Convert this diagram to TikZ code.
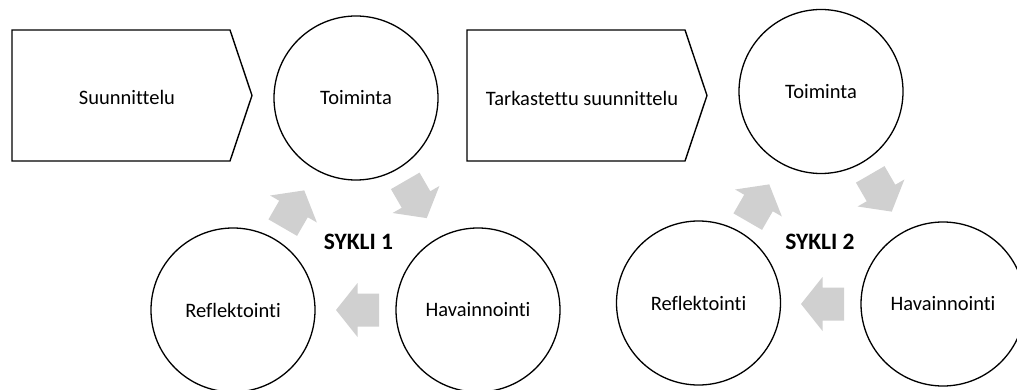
\documentclass[tikz,border=0pt]{standalone}
\usepackage{fontspec}
\setmainfont{Carlito}[Ligatures={NoCommon}]
\begin{document}
\begin{tikzpicture}[x=1pt,y=-1pt,
  label text/.style={font=\fontsize{20.5}{24}\selectfont, inner sep=0pt},
  cycle title/.style={font=\fontsize{23.5}{27}\selectfont\bfseries, inner sep=0pt},
  phase/.style={draw=black, line width=1.3pt, circle, minimum size=164pt, inner sep=0pt,
                font=\fontsize{20.5}{24}\selectfont},
  plan outline/.style={draw=black, line width=1.4pt, line join=miter},
  flow arrow/.style={fill=arrowgray, draw=none}
]
\definecolor{arrowgray}{RGB}{208,208,208}
\useasboundingbox (0,0) rectangle (1017,390);

% chevron-shaped block arrow, centred at (#1,#2), pointing at angle #3
\newcommand\cyclearrow[3]{%
  \fill[flow arrow, shift={(#1,#2)}, rotate=#3]
    (-21.5,-16.5) -- (0,-16.5) -- (0,-27) -- (21.5,0) -- (0,27) -- (0,16.5) -- (-21.5,16.5) -- cycle;}

% ---------- cycle 1 ----------
\coordinate (p1a) at (12,30);
\coordinate (p1b) at (230,30);
\coordinate (p1c) at (252,95.5);
\coordinate (p1d) at (230,161);
\coordinate (p1e) at (12,161);
\draw[plan outline] (p1a) -- (p1b) -- (p1c) -- (p1d) -- (p1e) -- cycle;
\node[label text] (plan1) at (127,97) {Suunnittelu};

\node[phase] (act1) at (356,98) {Toiminta};
\node[phase] (obs1) at (478,310) {Havainnointi};
\node[phase] (ref1) at (233,310) {Reflektointi};
\node[cycle title] (title1) at (358.5,242) {SYKLI 1};

\cyclearrow{416}{199.5}{-60}
\cyclearrow{357.5}{310}{180}
\cyclearrow{293.5}{209}{60}

% ---------- cycle 2 ----------
\coordinate (p2a) at (467,30);
\coordinate (p2b) at (685,30);
\coordinate (p2c) at (707,95.5);
\coordinate (p2d) at (685,161);
\coordinate (p2e) at (467,161);
\draw[plan outline] (p2a) -- (p2b) -- (p2c) -- (p2d) -- (p2e) -- cycle;
\node[label text] (plan2) at (582,98) {Tarkastettu suunnittelu};

\node[phase] (act2) at (821,91.5) {Toiminta};
\node[phase] (obs2) at (943,304) {Havainnointi};
\node[phase] (ref2) at (698.5,303) {Reflektointi};
\node[cycle title] (title2) at (820,242) {SYKLI 2};

\cyclearrow{881}{193}{-60}
\cyclearrow{822.5}{304}{180}
\cyclearrow{758.5}{203}{60}
\end{tikzpicture}
\end{document}
